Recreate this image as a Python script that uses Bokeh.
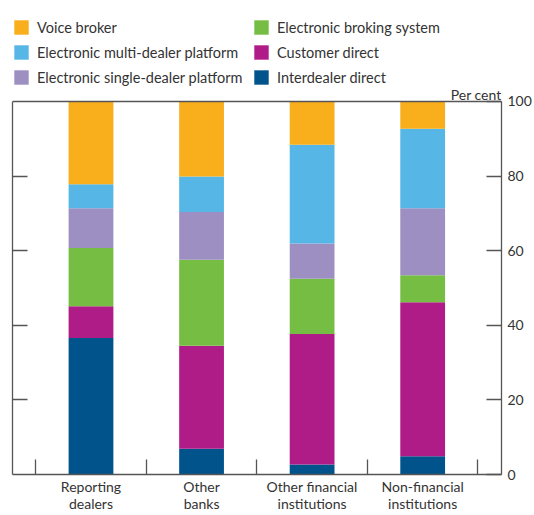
from bokeh.plotting import figure
from bokeh.models import Range1d, LinearAxis, FixedTicker, Legend, LegendItem, Label, Span, ColumnDataSource
from bokeh.embed import file_html
from bokeh.resources import INLINE

# ---- data ----
categories = ["Reporting\ndealers", "Other\nbanks", "Other financial\ninstitutions", "Non-financial\ninstitutions"]
interdealer_direct = [36.6, 6.9, 2.7, 4.9]
customer_direct = [8.5, 27.6, 35.0, 41.3]
electronic_broking_system = [15.6, 23.1, 14.8, 7.2]
electronic_single_dealer_platform = [10.7, 12.8, 9.4, 18.0]
electronic_multi_dealer_platform = [6.4, 9.5, 26.5, 21.3]
voice_broker = [22.2, 20.1, 11.6, 7.3]
y_ticks = [0, 20, 40, 60, 80, 100]

series_names = ["Interdealer direct", "Customer direct", "Electronic broking system",
                "Electronic single-dealer platform", "Electronic multi-dealer platform", "Voice broker"]
series_values = [interdealer_direct, customer_direct, electronic_broking_system,
                 electronic_single_dealer_platform, electronic_multi_dealer_platform, voice_broker]
colors = ["#00548B", "#B01C87", "#76BE43", "#9D8FC2", "#56B6E6", "#F9AE1B"]
legend_order = ["Voice broker", "Electronic multi-dealer platform", "Electronic single-dealer platform",
                "Electronic broking system", "Customer direct", "Interdealer direct"]

FONT = "Lato"
TXT = "#333333"
LINE = "#555555"

n = len(categories)
x_pos = [i + 0.5 for i in range(n)]
data = {"x": x_pos}
keys = []
for i, vals in enumerate(series_values):
    k = f"s{i}"
    keys.append(k)
    data[k] = vals
source = ColumnDataSource(data)

Y_MAX = y_ticks[-1]
# the plotting area also holds the legend band above the 0-100 box
p = figure(width=534, height=515, title=None,
           x_range=Range1d(-0.21, n + 0.213), y_range=Range1d(0, 122.25),
           output_backend="svg", toolbar_location=None, y_axis_location="right",
           min_border_left=12, min_border_right=31, min_border_top=18, min_border_bottom=36)
p.xgrid.visible = False
p.ygrid.visible = False
p.outline_line_color = None

renderers = p.vbar_stack(keys, x="x", width=0.405, source=source, color=colors, line_width=0)
rmap = dict(zip(series_names, renderers))

# top edge of the chart box
p.add_layout(Span(location=Y_MAX, dimension="width", line_color=LINE, line_width=1.3))

# right y axis with labels
ya = p.yaxis[0]
ya.ticker = FixedTicker(ticks=y_ticks, minor_ticks=[])
ya.bounds = (0, Y_MAX)
ya.major_tick_in = 15
ya.major_tick_out = 0
ya.minor_tick_in = 0
ya.minor_tick_out = 0
ya.major_label_standoff = 6
ya.major_label_text_font = FONT
ya.major_label_text_font_size = "14px"
ya.major_label_text_color = TXT
ya.axis_line_color = LINE
ya.axis_line_width = 1.3
ya.major_tick_line_color = LINE
ya.major_tick_line_width = 1.3

# left y axis, tick marks only (no labels)
la = LinearAxis(ticker=FixedTicker(ticks=[], minor_ticks=y_ticks[1:-1]), bounds=(0, Y_MAX),
                major_tick_in=0, major_tick_out=0, minor_tick_in=15, minor_tick_out=0,
                axis_line_color=LINE, axis_line_width=1.3,
                minor_tick_line_color=LINE, minor_tick_line_width=1.3)
p.add_layout(la, "left")

# x axis: labels at bar centres, tick marks at category boundaries
xa = p.xaxis[0]
xa.ticker = FixedTicker(ticks=x_pos, minor_ticks=list(range(n + 1)))
xa.major_label_overrides = {x: c for x, c in zip(x_pos, categories)}
xa.major_tick_in = 0
xa.major_tick_out = 0
xa.minor_tick_in = 15
xa.minor_tick_out = 0
xa.minor_tick_line_color = LINE
xa.minor_tick_line_width = 1.3
xa.axis_line_color = LINE
xa.axis_line_width = 1.3
xa.major_label_standoff = 3
xa.major_label_text_font = FONT
xa.major_label_text_font_size = "14px"
xa.major_label_text_color = TXT
xa.major_label_text_line_height = 1.05

leg = Legend(items=[LegendItem(label=s, renderers=[rmap[s]]) for s in legend_order],
             ncols=2, location="top_left", glyph_width=18, glyph_height=18, label_height=18,
             label_width=208, spacing=7, label_standoff=7, padding=0, margin=0,
             border_line_alpha=0, background_fill_alpha=0,
             label_text_font=FONT, label_text_font_size="14.5px", label_text_color=TXT)
p.add_layout(leg)

p.add_layout(Label(x=n + 0.213, y=Y_MAX, y_offset=7, text="Per cent",
                   text_align="right", text_baseline="alphabetic",
                   text_font=FONT, text_font_size="14px", text_color=TXT))

open("out.html", "w").write(file_html(p, INLINE))
